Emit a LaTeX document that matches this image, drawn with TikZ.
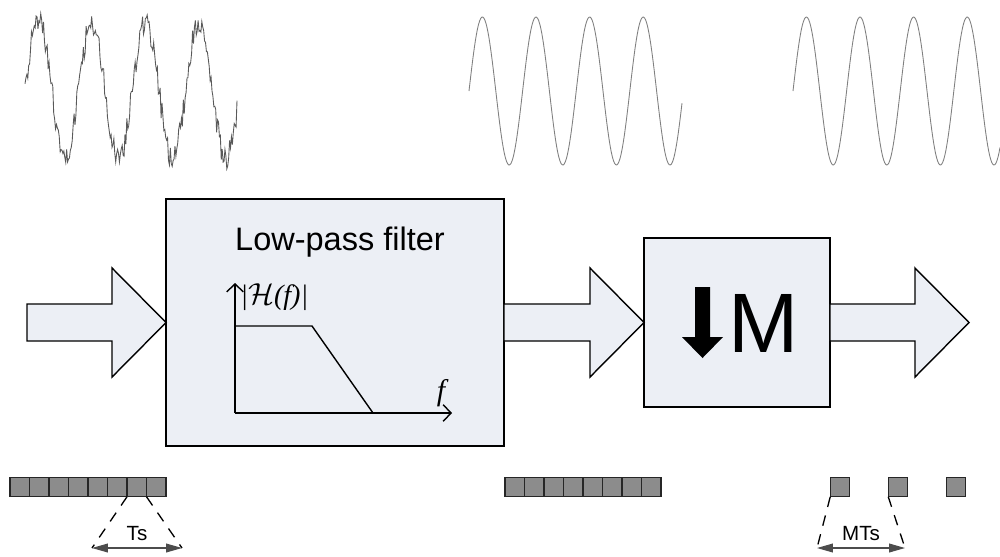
\documentclass[tikz,border=0pt]{standalone}
\usepackage{fontspec}
\setmainfont{Liberation Sans}
\newfontfamily\serifit{Liberation Serif}
\usetikzlibrary{arrows.meta,calc,positioning}
\definecolor{boxfill}{RGB}{236,239,245}
\definecolor{slotgray}{RGB}{140,140,140}
\tikzset{
  blk/.style={draw, fill=boxfill, line width=0.8pt, inner sep=0pt, outer sep=0pt},
  fat/.style={draw, fill=boxfill, line width=0.8pt, line join=miter},
  slot/.style={draw=black!85, fill=slotgray, line width=0.7pt, minimum size=0.39cm, inner sep=0pt, outer sep=0pt},
  wave/.style={draw=black!50, line width=0.5pt},
  axis/.style={line width=0.8pt, -{Straight Barb[length=4.5pt,width=9.5pt]}},
  guide/.style={line width=0.75pt, dash pattern=on 6pt off 5pt},
  span/.style={draw=black!70, line width=0.6pt, {Triangle[length=9pt,width=5pt]}-{Triangle[length=9pt,width=5pt]}},
  small/.style={font=\fontsize{11.7}{13}\selectfont}
}
\newcommand{\fatarrow}[2]{%
  \draw[fat] ($(#1)+(0,-18.5)$) -- ($(#2)+(-54,-18.5)$) -- ($(#2)+(-54,-54.5)$) -- (#2)
    -- ($(#2)+(-54,54.5)$) -- ($(#2)+(-54,18.5)$) -- ($(#1)+(0,18.5)$) -- cycle;}

\begin{document}
\begin{tikzpicture}[x=0.02cm, y=-0.02cm]
  \useasboundingbox (0,0) rectangle (1000,556);

  % signals (one period = 53.6 px, 360/53.6 = 6.716)
  \pgfmathsetseed{23}
  \draw[wave, draw=black!65] plot[domain=25:237, samples=230] (\x, {90-68*sin(6.716*(\x-25))+12*rand});
  \draw[wave] plot[domain=469:682, samples=200, smooth] (\x, {91-74*sin(6.716*(\x-469))});
  \draw[wave] plot[domain=793:1000, samples=200, smooth] (\x, {91-74*sin(6.716*(\x-793))});

  % blocks
  \node[blk, minimum width=6.76cm, minimum height=4.94cm] (filter) at (335,322.5) {};
  \node[blk, minimum width=3.72cm, minimum height=3.38cm] (down) at (737,322.5) {};
  \coordinate (in) at (27,322.5);
  \coordinate (out) at (969,322.5);

  \fatarrow{in}{filter.west}
  \fatarrow{filter.east}{down.west}
  \fatarrow{down.east}{out}

  \node[anchor=base, font=\fontsize{18.5}{20}\selectfont] (lpf) at (340,250) {Low-pass filter};

  % frequency response
  \coordinate (org) at (235,413);
  \draw[axis] (org) -- (235,283);
  \draw[axis] (org) -- (452,413);
  \draw[line width=0.8pt] (235,326) -- (312,326) -- (373,413);
  \node[anchor=west, inner sep=0pt, font=\fontsize{16}{17}\selectfont] (mag) at (240,297)
    {{\serifit\itshape |}$\mathcal{H}${\serifit\itshape (f)|}};
  \node[inner sep=0pt, font=\serifit\itshape\fontsize{17}{18}\selectfont] (freq) at (441,393) {f};

  % decimator
  \fill (695,287) -- (710,287) -- (710,337) -- (723,337) -- (702.5,358) -- (682,337) -- (695,337) -- cycle;
  \node[anchor=base, inner sep=0pt, font=\fontsize{48}{50}\selectfont] (mlab) at (764,352) {M};

  % samples
  \foreach \i in {1,...,8} {
    \node[slot] (s\i) at ({10+19.5*(\i-0.5)},487) {};
    \node[slot] (r\i) at ({505+19.5*(\i-0.5)},487) {};
  }
  \foreach \i in {1,2,3}
    \node[slot] (d\i) at ({840+58*(\i-1)},487) {};

  \coordinate (tsl) at (92,548);
  \coordinate (tsr) at (182,548);
  \draw[guide] (s7.south west) -- (tsl);
  \draw[guide] (s8.south west) -- (tsr);
  \draw[span] (tsl) -- (tsr);
  \node[small] (ts) at (137,534) {Ts};

  \coordinate (mtl) at (817,548);
  \coordinate (mtr) at (905,548);
  \draw[guide] (d1.south west) -- (mtl);
  \draw[guide] (d2.south west) -- (mtr);
  \draw[span] (mtl) -- (mtr);
  \node[small] (mts) at (861,534) {MTs};
\end{tikzpicture}
\end{document}
